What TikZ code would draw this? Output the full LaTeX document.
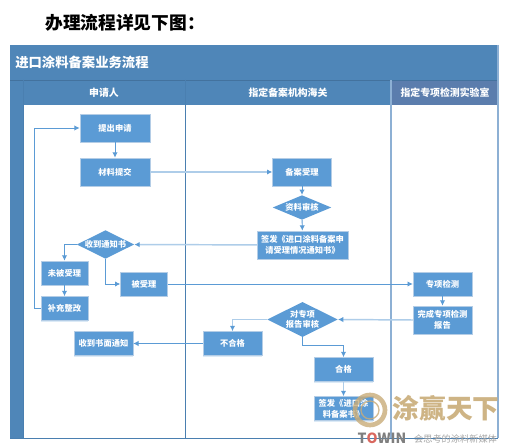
\documentclass[tikz,border=0pt]{standalone}
\usepackage{fontspec}
\setmainfont{Noto Sans CJK SC}
\usetikzlibrary{arrows.meta, shapes.geometric, shadows}
\definecolor{lnhead}{HTML}{4F86B8}
\definecolor{lnheadb}{HTML}{5B7DAD}
\definecolor{lnedge}{HTML}{4A7FB0}
\definecolor{lnpale}{HTML}{8DB0D4}
\definecolor{boxblue}{HTML}{5B9BD5}
\definecolor{boxedge}{HTML}{B4CDE6}
\definecolor{linkpale}{HTML}{AECDE9}
\definecolor{marktan}{HTML}{C9AC78}
\definecolor{markgray}{HTML}{7F7F7F}
\definecolor{markred}{HTML}{D9685F}
\tikzset{
  flowbox/.style={rectangle, draw=boxedge, fill=boxblue, line width=0.5pt, text=white,
    font=\fontsize{6.2}{8}\selectfont\bfseries, align=center, inner sep=0pt,
    drop shadow={shadow xshift=0pt, shadow yshift=-1pt, fill=boxblue!35, opacity=0.6}},
  flowdia/.style={diamond, aspect=2, fill=boxblue, text=white,
    font=\fontsize{6.2}{8}\selectfont\bfseries, align=center, inner sep=0pt},
  link/.style={boxblue, line width=0.7pt, -{Latex[length=4pt,width=4pt]}},
  palelink/.style={draw=linkpale, line width=1.1pt, -{Latex[length=4pt,width=4pt,color=boxblue]}},
  lanetitle/.style={text=white, font=\fontsize{7.4}{9}\selectfont\bfseries}
}
\begin{document}
\begin{tikzpicture}[x=0.75pt, y=-0.75pt]
  \useasboundingbox (0,0) rectangle (507,448);
  \fill[white] (0,0) rectangle (507,448);

  % Heading above the chart
  \node[font=\fontsize{13.3}{15}\selectfont\bfseries, anchor=west, inner sep=0pt] (heading) at (45,23) {办理流程详见下图：};

  % Pool header, strip and lanes
  \fill[lnhead] (10,45) rectangle (498,105);
  \fill[lnhead] (10,105) rectangle (23,438);
  \fill[lnheadb] (391,80) rectangle (498,105);
  \draw[lnedge!90!black, thin] (10,80) -- (498,80);
  \draw[lnedge, thin] (23,80) -- (23,438);
  \draw[lnedge, thin] (185,80) -- (185,438);
  \draw[lnpale, thick] (391,80) -- (391,438);
  \draw[lnpale, thick] (498,45) -- (498,438);
  \draw[lnedge, thin] (10,438) -- (498,438);
  \node[text=white, font=\fontsize{10}{12}\selectfont\bfseries, anchor=west, inner sep=0pt] (pooltitle) at (15,62.5) {进口涂料备案业务流程};
  \node[lanetitle] (lane1) at (104,92.5) {申请人};
  \node[lanetitle] (lane2) at (288,92.5) {指定备案机构海关};
  \node[lanetitle] (lane3) at (445,92.5) {指定专项检测实验室};

  % Applicant lane
  \node[flowbox, minimum width=52.5pt, minimum height=21pt] (apply) at (115,128) {提出申请};
  \node[flowbox, minimum width=52.5pt, minimum height=21pt] (submit) at (115,172) {材料提交};
  \node[flowdia, minimum width=43pt, minimum height=20pt] (notice) at (105.5,244.5) {收到通知书};
  \node[flowbox, minimum width=35pt, minimum height=18pt] (reject) at (64.5,273) {未被受理};
  \node[flowbox, minimum width=35pt, minimum height=18pt] (accept) at (144,284) {被受理};
  \node[flowbox, minimum width=35pt, minimum height=18pt] (amend) at (64.5,308.5) {补充整改};
  \node[flowbox, minimum width=44pt, minimum height=18pt] (written) at (103.5,343.5) {收到书面通知};

  % Customs lane
  \node[flowbox, minimum width=44pt, minimum height=21pt] (filing) at (302,172) {备案受理};
  \node[flowdia, minimum width=44pt, minimum height=17pt] (check) at (302,207.5) {资料审核};
  \node[flowbox, minimum width=68pt, minimum height=21pt] (issue) at (302.5,245) {签发《进口涂料备案申\\请受理情况通知书》};
  \node[flowdia, minimum width=43pt, minimum height=26pt] (review) at (302.5,319.5) {对专项\\报告审核};
  \node[flowbox, minimum width=44pt, minimum height=18pt] (fail) at (232.5,343.5) {不合格};
  \node[flowbox, minimum width=44pt, minimum height=18pt] (pass) at (343.5,369.5) {合格};
  \node[flowbox, minimum width=44pt, minimum height=18pt] (cert) at (343.5,408.5) {签发《进口涂\\料备案书》};

  % Laboratory lane
  \node[flowbox, minimum width=44pt, minimum height=18pt] (test) at (442.5,284) {专项检测};
  \node[flowbox, minimum width=44pt, minimum height=21pt] (report) at (442.5,320) {完成专项检测\\报告};

  % Elbows
  \coordinate (backbend) at (34,128);
  \coordinate (passbend) at (343.5,345);

  % Connectors
  \draw[link] (apply) -- (submit);
  \draw[palelink] (submit) -- (filing);
  \draw[link] (filing) -- (check);
  \draw[link] (check) -- (issue);
  \draw[palelink] (issue) -- (notice);
  \draw[link] (notice.west) -| (reject.north);
  \draw[link] (notice.south) |- (accept.west);
  \draw[link] (reject) -- (amend);
  \draw[link] (amend.west) -| (backbend) -- (apply.west);
  \draw[link] (accept) -- (test);
  \draw[link] (test) -- (report);
  \draw[palelink] (report.west) -- (review.east);
  \draw[palelink] (review.west) -| (fail.north);
  \draw[link] (review.south) |- (passbend) -- (pass.north);
  \draw[link] (fail) -- (written);
  \draw[palelink] (pass) -- (cert);

  % Watermark
  \draw[marktan, line width=3.5pt, opacity=0.8] (370,410) circle[radius=15];
  \draw[marktan, line width=1pt, opacity=0.8] (370,410) circle[radius=9];
  \node[text=marktan, font=\fontsize{20}{22}\selectfont\bfseries, opacity=0.9] (markname) at (446,408) {涂赢天下};
  \node[text=markgray, font=\fontsize{10.5}{12}\selectfont\bfseries] (marklatin) at (382,438) {T\textcolor{markred}{O}WIN};
  \node[text=markgray!70, font=\fontsize{6.9}{8}\selectfont] (markslogan) at (455.5,439) {会思考的涂料新媒体};
\end{tikzpicture}
\end{document}
